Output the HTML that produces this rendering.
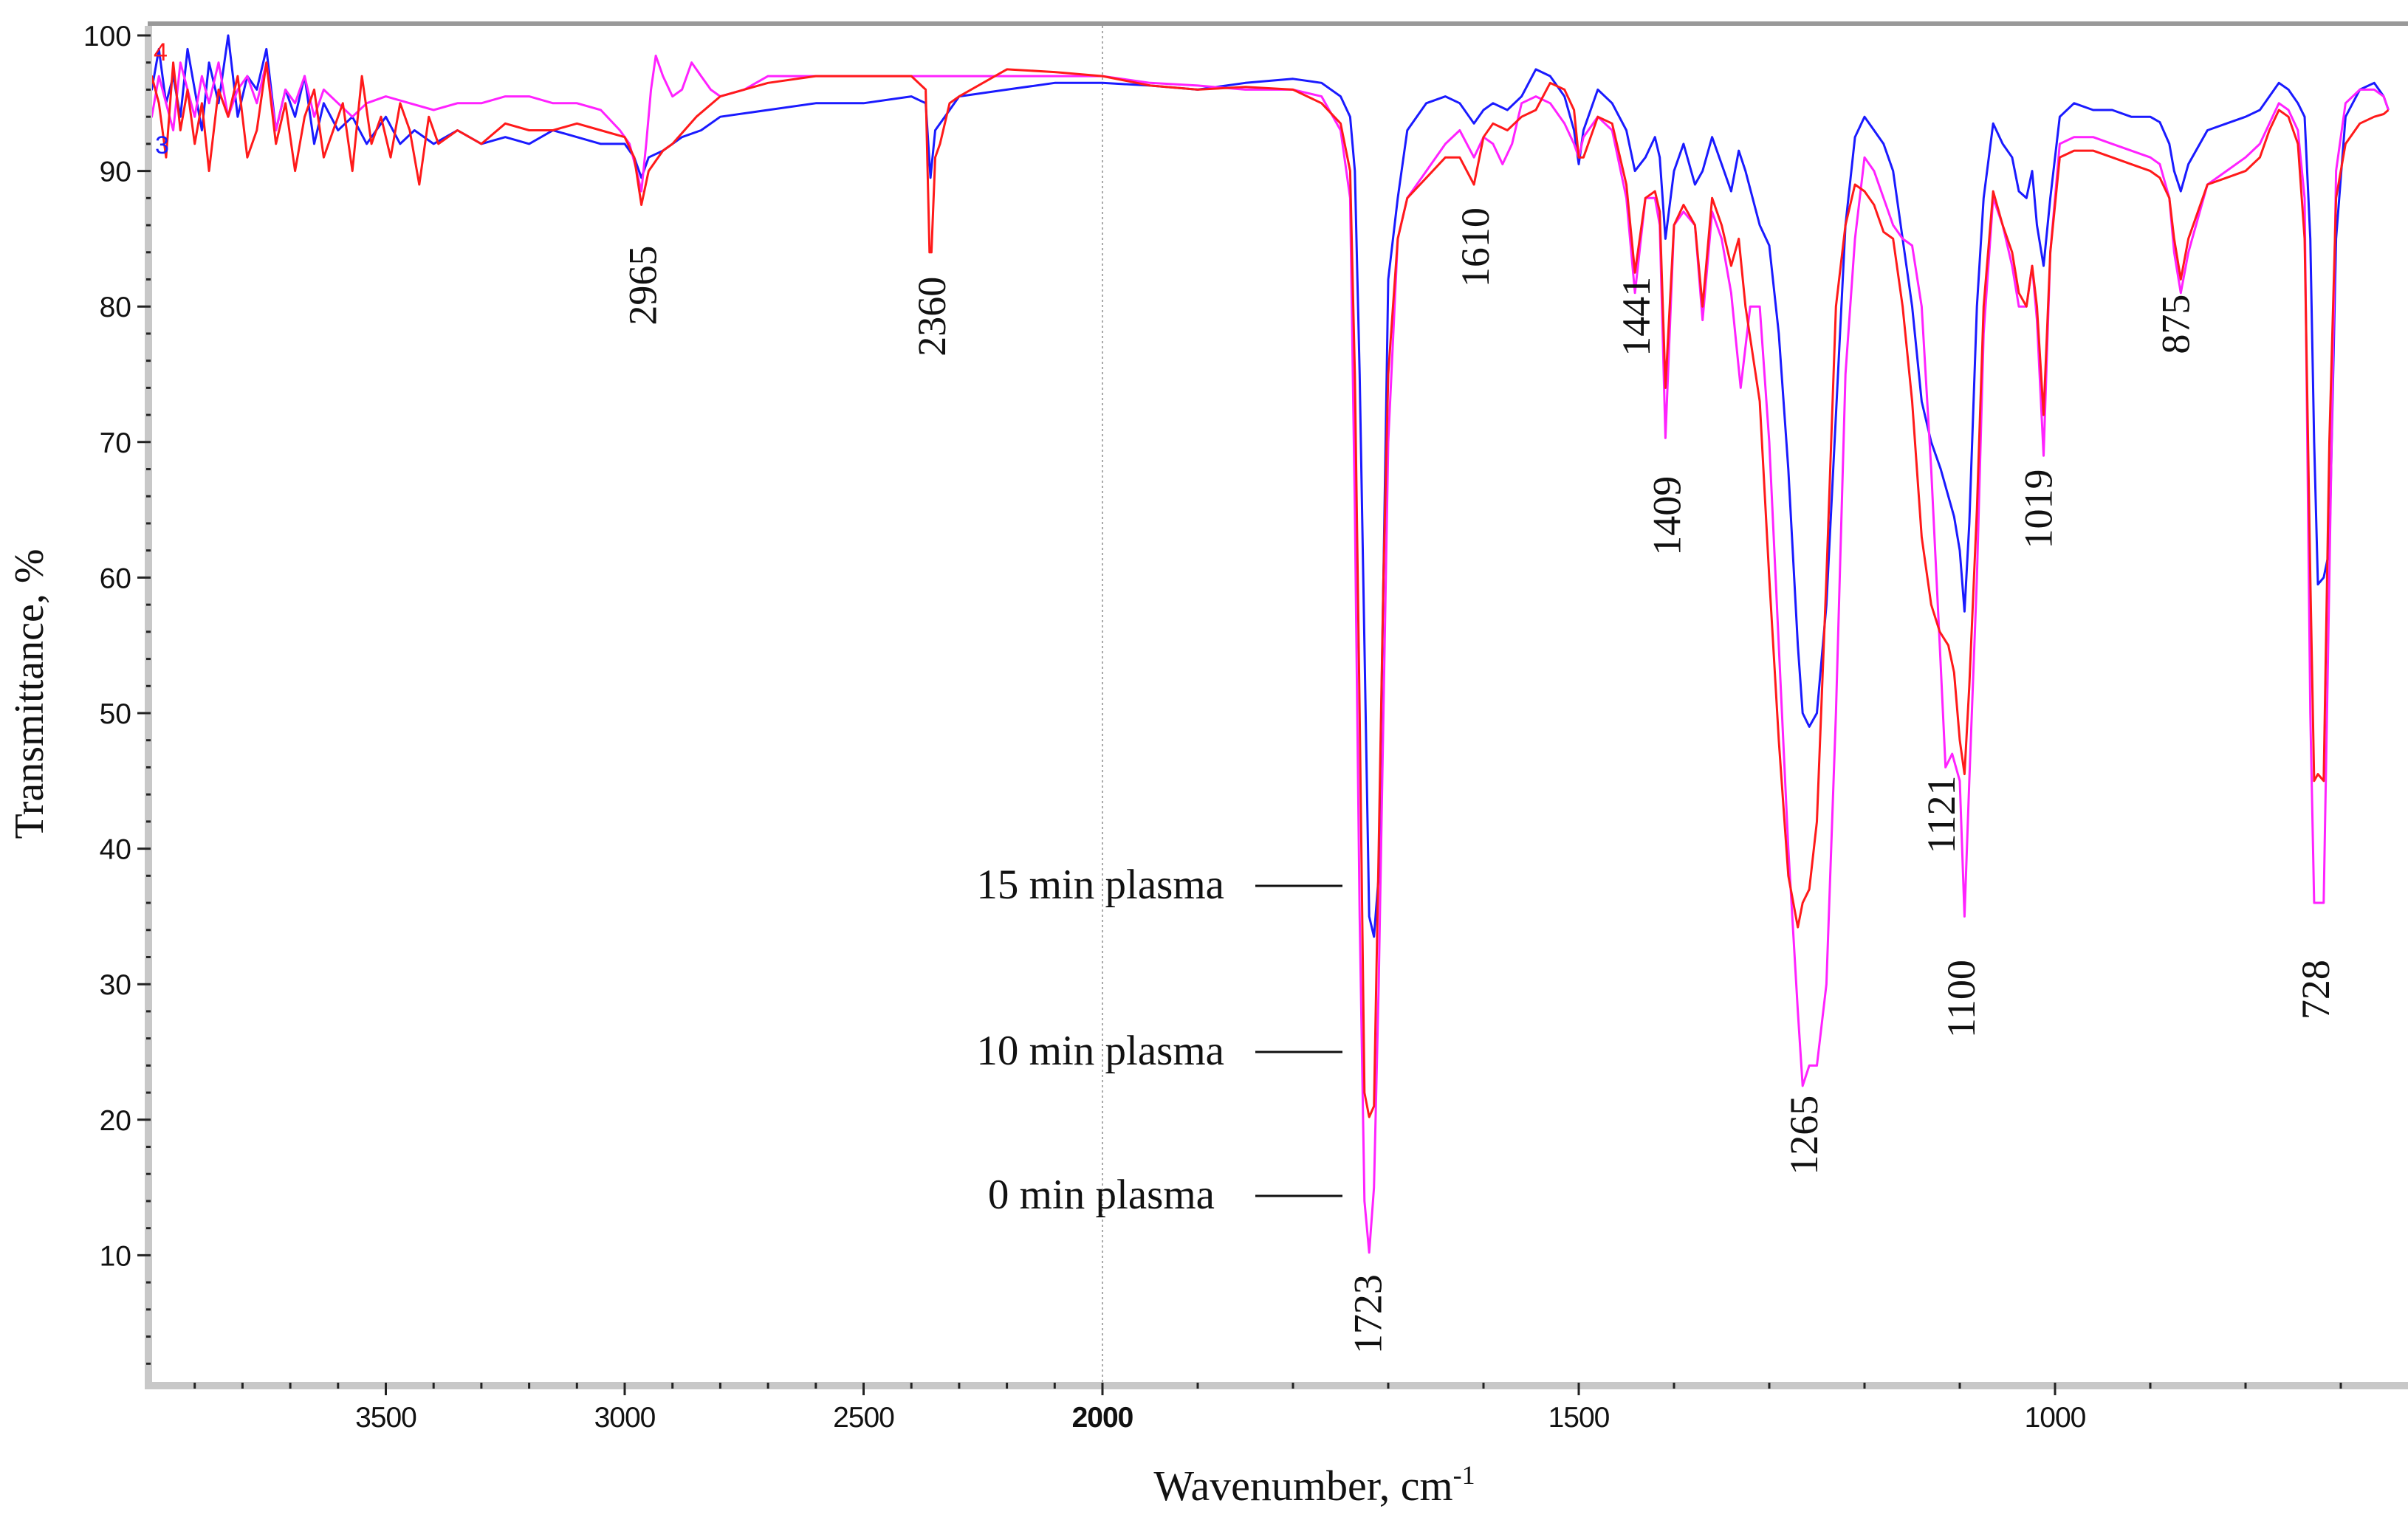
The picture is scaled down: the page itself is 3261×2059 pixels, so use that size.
<!DOCTYPE html>
<html><head><meta charset="utf-8"><style>
html,body{margin:0;padding:0;background:#fff;}
svg{display:block;}
</style></head><body>
<svg id="chart" width="3261" height="2059" viewBox="0 0 3261 2059" xmlns="http://www.w3.org/2000/svg">
<defs><clipPath id="plotclip"><rect x="205" y="36" width="3046" height="1836"/></clipPath></defs>
<g id="grid"></g>
<g id="series" clip-path="url(#plotclip)"></g>
<g id="axes"></g>
<g id="annot"></g>
</svg>
<script>
// ---- data ----
const xTickValues = [3500, 3000, 2500, 2000, 1500, 1000];
const yTickValues = [10, 20, 30, 40, 50, 60, 70, 80, 90, 100];
const peakLabels = ["2965","2360","1610","1441","1409","1265","1121","1100","1019","875","728","1723"];
const peakWn = [2965, 2360, 1610, 1441, 1409, 1265, 1121, 1100, 1019, 875, 728, 1723];
const peakLabelT = [84.5, 82.2, 87.3, 82.2, 67.5, 21.8, 45.4, 31.8, 68, 80.9, 31.8, 8.6];

const wn15 = [4000,3990,3975,3960,3945,3930,3915,3900,3885,3870,3850,3830,3810,3790,3770,3750,3730,3710,3690,3670,3650,3630,3600,3570,3540,3500,3470,3440,3400,3350,3300,3250,3200,3150,3100,3050,3000,2980,2965,2950,2920,2880,2840,2800,2700,2600,2500,2400,2370,2360,2350,2330,2300,2200,2100,2000,1950,1900,1850,1800,1770,1750,1740,1735,1730,1725,1720,1715,1710,1705,1700,1690,1680,1660,1640,1625,1610,1600,1590,1575,1560,1545,1530,1515,1505,1500,1495,1480,1465,1450,1441,1430,1420,1415,1409,1400,1390,1378,1370,1360,1350,1340,1332,1325,1310,1300,1290,1280,1270,1265,1258,1250,1240,1230,1220,1210,1200,1190,1180,1170,1160,1150,1140,1130,1120,1112,1106,1100,1095,1090,1082,1075,1065,1055,1045,1038,1030,1024,1019,1012,1005,995,980,960,940,920,900,890,880,875,868,860,840,820,800,785,775,765,755,745,738,732,728,724,718,712,705,695,680,665,655,650];
const t15 = [100,96,99,95,97,94,99,96,93,98,95,100,94,97,96,99,93,96,94,97,92,95,93,94,92,94,92,93,92,93,92,92.5,92,93,92.5,92,92,91,89.5,91,91.5,92.5,93,94,94.5,95,95,95.5,95,89.5,93,94,95.5,96,96.5,96.5,96.3,96,96.5,96.8,96.5,95.5,94,90,75,55,35,33.5,38,60,82,88,93,95,95.5,95,93.5,94.5,95,94.5,95.5,97.5,97,95.5,93,90.5,93,96,95,93,90,91,92.5,91,85,90,92,89,90,92.5,90.5,88.5,91.5,90,86,84.5,78,68,55,50,49,50,58,72,86,92.5,94,93,92,90,85,80,73,70,68,66,64.5,62,57.5,64,80,88,93.5,92,91,88.5,88,90,86,83,88,94,95,94.5,94.5,94,94,93.6,92,90,88.5,90.5,93,93.5,94,94.5,95.5,96.5,96,95,94,85,70,59.5,60,62,85,94,96,96.5,95.5,94.5,96,99];

const wn10 = [4000,3990,3975,3960,3945,3930,3915,3900,3885,3870,3850,3830,3810,3790,3770,3750,3730,3710,3690,3670,3650,3630,3610,3590,3570,3550,3530,3510,3490,3470,3450,3430,3410,3390,3350,3300,3250,3200,3150,3100,3050,3000,2980,2965,2950,2920,2900,2850,2800,2700,2600,2500,2400,2370,2362,2358,2350,2340,2320,2300,2200,2100,2000,1950,1900,1850,1800,1770,1750,1740,1735,1730,1725,1720,1715,1710,1705,1700,1690,1680,1660,1640,1625,1610,1600,1590,1575,1560,1545,1530,1515,1505,1500,1495,1480,1465,1450,1441,1430,1420,1415,1409,1400,1390,1378,1370,1360,1350,1340,1332,1325,1310,1300,1290,1280,1270,1265,1258,1250,1240,1230,1220,1210,1200,1190,1180,1170,1160,1150,1140,1130,1121,1112,1106,1100,1095,1090,1082,1075,1065,1055,1045,1038,1030,1024,1019,1012,1005,995,980,960,940,920,900,890,880,875,868,860,840,820,800,785,775,765,755,745,738,732,728,724,718,712,705,695,680,665,655,650];
const t10 = [92,97,95,91,98,93,96,92,95,90,96,94,97,91,93,98,92,95,90,94,96,91,93,95,90,97,92,94,91,95,93,89,94,92,93,92,93.5,93,93,93.5,93,92.5,91,87.5,90,91.5,92,94,95.5,96.5,97,97,97,96,84,84,91,92,95,95.5,97.5,97.3,97,96.3,96,96.2,96,95,93.5,90,75,50,22,20.2,21,40,60,75,85,88,89.5,91,91,89,92.5,93.5,93,94,94.5,96.5,96,94.5,91,91,94,93.5,89,82.5,88,88.5,87,74,86,87.5,86,80,88,86,83,85,80,73,60,48,38,34.2,36,37,42,60,80,86,89,88.5,87.5,85.5,85,80,73,63,58,56,55,53,48,45.5,52,65,80,88.5,86,84,81,80,83,80,72,84,91,91.5,91.5,91,90.5,90,89.5,88,85,82,85,89,89.5,90,91,93,94.5,94,92,85,60,45,45.5,45,70,88,92,93.5,94,94.2,94.5];

const wn0 = [4000,3990,3975,3960,3945,3930,3915,3900,3885,3870,3850,3830,3810,3790,3770,3750,3730,3710,3690,3670,3650,3630,3600,3570,3540,3500,3450,3400,3350,3300,3250,3200,3150,3100,3050,3010,2990,2975,2965,2955,2945,2935,2920,2900,2880,2860,2840,2820,2800,2750,2700,2600,2500,2450,2400,2000,1950,1900,1850,1800,1770,1750,1740,1735,1730,1725,1720,1715,1710,1705,1700,1690,1680,1660,1640,1625,1610,1600,1590,1580,1570,1560,1545,1530,1515,1505,1500,1495,1480,1465,1450,1441,1430,1420,1415,1409,1400,1390,1378,1370,1360,1350,1340,1330,1320,1310,1300,1290,1280,1270,1265,1258,1250,1240,1230,1220,1210,1200,1190,1180,1170,1160,1150,1140,1130,1121,1115,1108,1100,1095,1090,1082,1075,1065,1055,1045,1038,1030,1024,1019,1012,1005,995,980,960,940,920,900,890,880,875,868,860,840,820,800,785,775,765,755,745,738,732,728,724,718,712,705,695,680,665,655,650];
const t0 = [97,94,97,95,93,98,96,94,97,95,98,94,96,97,95,98,93,96,95,97,94,96,95,94,95,95.5,95,94.5,95,95,95.5,95.5,95,95,94.5,93,92,90,88.5,92,96,98.5,97,95.5,96,98,97,96,95.5,96,97,97,97,97,97,97,96.5,96.3,96,96,95.5,93,88,65,35,14,10.2,15,30,50,70,85,88,90,92,93,91,92.5,92,90.5,92,95,95.5,95,93.5,92,91,92.5,94,93,88,81,88,88,86,70.3,86,87,86,79,87,85,81,74,80,80,70,55,40,28,22.5,24,24,30,50,75,85,91,90,88,86,85,84.5,80,68,55,46,47,45,35,45,60,78,88,86,83,80,80,83,79,69,84,92,92.5,92.5,92,91.5,91,90.5,88,84,81,84,89,90,91,92,93.5,95,94.5,93,88,50,36,36,36,60,90,95,96,96,95.5,94.5];

// ---- scales ----
function xScale(w){ return w >= 2000 ? 1493 - (w - 2000) * 0.647 : 1493 + (2000 - w) * 1.29; }
function yScale(t){ return 48 + (100 - t) * 18.36; }
const NS = "http://www.w3.org/2000/svg";
function mk(tag, attrs, parent){ const e = document.createElementNS(NS, tag); for (const k in attrs) e.setAttribute(k, attrs[k]); parent.appendChild(e); return e; }

const grid = document.getElementById('grid');
const axes = document.getElementById('axes');
const series = document.getElementById('series');
const annot = document.getElementById('annot');

// frame
let topLine = mk('rect', {x:200, y:29, width:3061, height:6, fill:'#999'}, grid);


let dline = mk('line', {x1:xScale(2000), y1:35, x2:xScale(2000), y2:1872, stroke:'#aaa', 'stroke-width':2, 'stroke-dasharray':'3,4'}, grid);



// series
function drawSeries(wns, ts, color, name){
  let d = '';
  for (let i = 0; i < wns.length; i++){ d += (i ? 'L' : 'M') + xScale(wns[i]).toFixed(1) + ',' + yScale(ts[i]).toFixed(1); }
  const p = mk('path', {d:d, fill:'none', stroke:color, 'stroke-width':3, 'stroke-linejoin':'round'}, series);
  
  
}
drawSeries(wn15, t15, '#1a1aff', 'series-15-min-plasma');
drawSeries(wn0, t0, '#ff22ff', 'series-0-min-plasma');
drawSeries(wn10, t10, '#ff1a1a', 'series-10-min-plasma');

// axes bars
let yBar = mk('rect', {x:196, y:35, width:10, height:1847, fill:'#c8c8c8'}, axes);


let xBar = mk('rect', {x:196, y:1872, width:3065, height:10, fill:'#c8c8c8'}, axes);



// y ticks
for (let t = 2; t <= 100; t += 2){
  const major = t % 10 === 0;
  const tk = mk('line', {x1: major ? 186 : 198, y1:yScale(t), x2:204, y2:yScale(t), stroke:'#222', 'stroke-width':3}, axes);
  
  
}
yTickValues.forEach(v => {
  const tx = mk('text', {x:178, y:yScale(v) + 14, 'text-anchor':'end', 'font-family':'Liberation Sans, sans-serif', 'font-size':39, fill:'#111'}, axes);
  tx.textContent = v;
  
  
});
// x ticks
for (let w = 3900; w >= 700; w -= 100){
  const major = w % 500 === 0;
  const tk = mk('line', {x1:xScale(w), y1:1873, x2:xScale(w), y2: major ? 1890 : 1881, stroke:'#222', 'stroke-width':3}, axes);
  
  
}
xTickValues.forEach(v => {
  const tx = mk('text', {x:xScale(v), y:1933, 'text-anchor':'middle', 'font-family':'Liberation Sans, sans-serif', 'font-size':39, fill:'#111', 'font-weight': v === 2000 ? 'bold' : 'normal', 'letter-spacing':'-1'}, axes);
  tx.textContent = v;
  
  
});

// axis titles
let yt = mk('text', {x:0, y:0, transform:'translate(58,940) rotate(-90)', 'text-anchor':'middle', 'font-family':'Liberation Serif, serif', 'font-size':56, fill:'#111'}, axes);
yt.textContent = 'Transmittance, %';


let xt = mk('text', {x:1780, y:2032, 'text-anchor':'middle', 'font-family':'Liberation Serif, serif', 'font-size':58, fill:'#111'}, axes);
xt.innerHTML = 'Wavenumber, cm<tspan dy="-22" font-size="36">-1</tspan>';



// curve ids
let l4 = mk('text', {x:208, y:82, 'font-family':'Liberation Sans, sans-serif', 'font-size':34, fill:'#ff1a1a'}, axes);
l4.textContent = '4';


let l3 = mk('text', {x:210, y:208, 'font-family':'Liberation Sans, sans-serif', 'font-size':34, fill:'#1a1aff'}, axes);
l3.textContent = '3';



// peak labels
peakLabels.forEach((lab, i) => {
  const x = xScale(peakWn[i]) + 20, y = yScale(peakLabelT[i]);
  const tx = mk('text', {x:0, y:0, transform:`translate(${x},${y}) rotate(-90)`, 'text-anchor':'end', 'font-family':'Liberation Serif, serif', 'font-size':54, fill:'#111'}, annot);
  tx.textContent = lab;
  
  
});

// legend-like labels
const legendNames = ['15 min plasma', '10 min plasma', '0 min plasma'];
const legendY = [1200, 1425, 1620];
const legendRight = [1658, 1658, 1645];
legendNames.forEach((n, i) => {
  const tx = mk('text', {x:legendRight[i], y:legendY[i] + 17, 'text-anchor':'end', 'font-family':'Liberation Serif, serif', 'font-size':57, fill:'#111'}, annot);
  tx.textContent = n;
  
  
  const ln = mk('line', {x1:1700, y1:legendY[i], x2:1818, y2:legendY[i], stroke:'#111', 'stroke-width':3}, annot);
  
  
});
</script>
</body></html>
